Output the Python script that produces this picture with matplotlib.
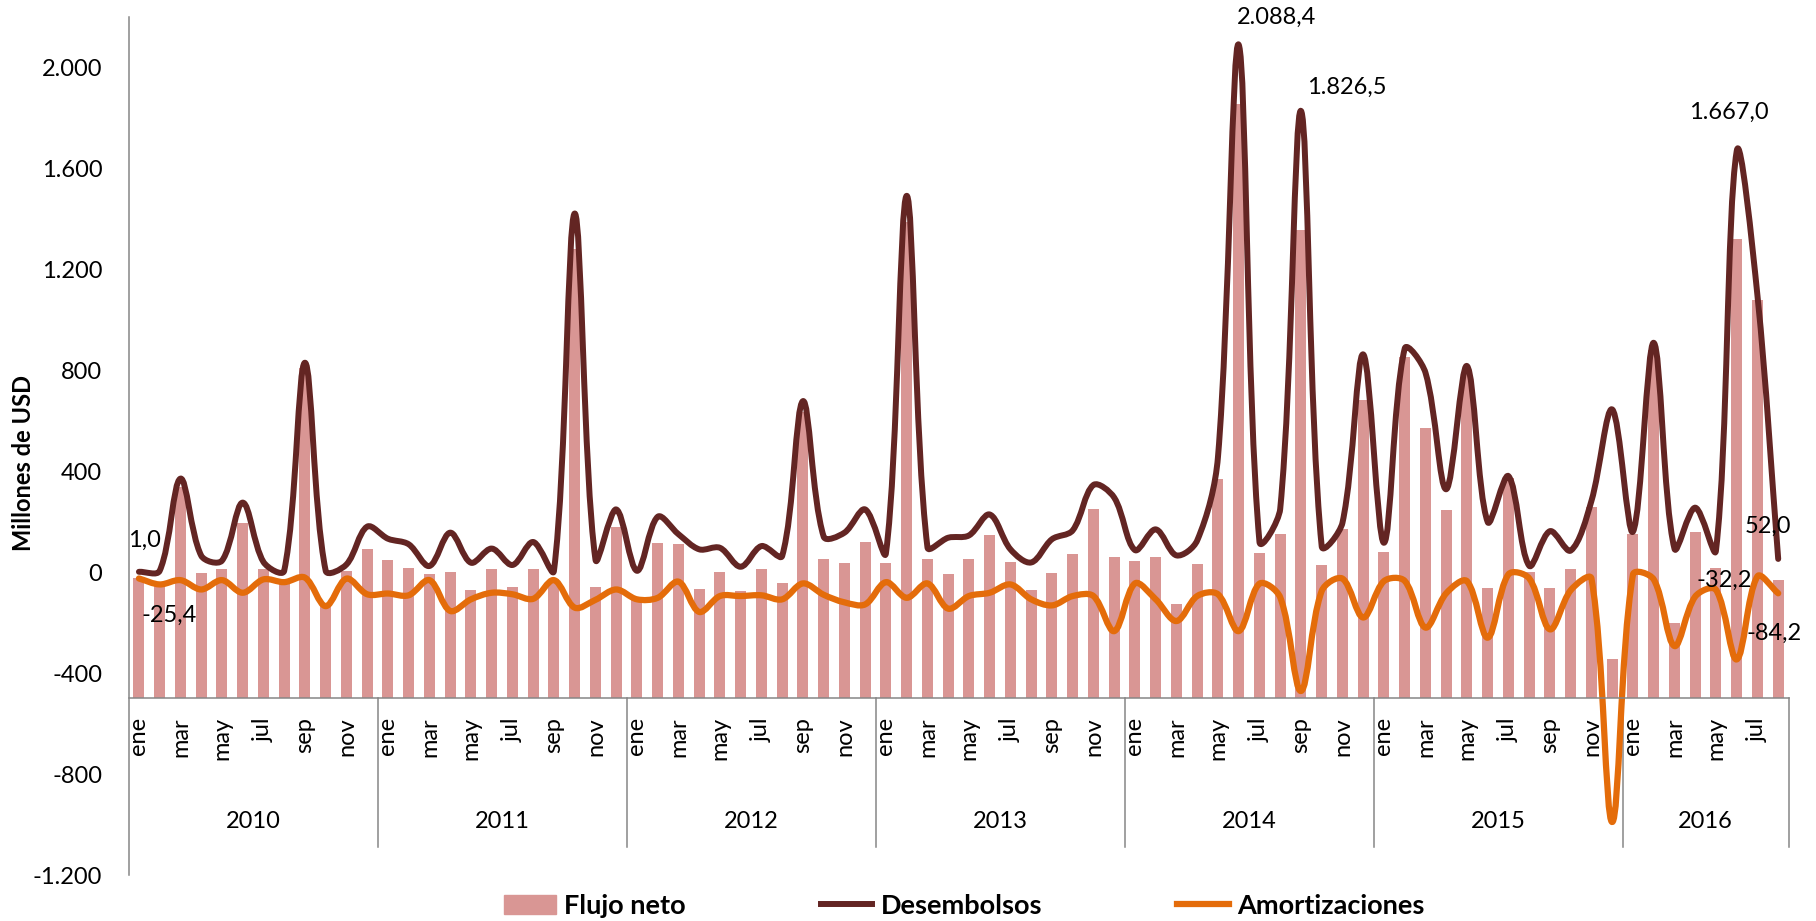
import numpy as np
import matplotlib
matplotlib.use("Agg")
import matplotlib.pyplot as plt
from matplotlib.path import Path
from matplotlib.patches import PathPatch, Patch
from matplotlib.lines import Line2D
from matplotlib.ticker import FuncFormatter

plt.rcParams['font.family'] = ['Lato', 'DejaVu Sans']
plt.rcParams['axes.unicode_minus'] = False

# datos mensuales ene-2010 .. ago-2016 (millones de USD)
years = ['2010', '2011', '2012', '2013', '2014', '2015', '2016']
months = ['ene', 'feb', 'mar', 'abr', 'may', 'jun', 'jul', 'ago', 'sep', 'oct', 'nov', 'dic']

desembolsos = [
    1.0, 5, 370, 65, 45, 275, 40, 5, 829, 5, 30, 180,
    132, 110, 24, 156, 37, 93, 28, 119, 5, 1420, 50, 248,
    5, 219, 150, 90, 96, 21, 103, 64, 677, 140, 156, 248,
    75, 1490, 98, 136, 145, 228, 90, 38, 130, 165, 345, 295,
    87, 169, 66, 125, 455, 2088.4, 120, 250, 1826.5, 102, 195, 862,
    116, 885, 790, 328, 816, 198, 380, 25, 162, 85, 282, 644,
    160, 908, 93, 255, 85, 1667.0, 1095, 52.0,
]
amortizaciones = [
    -25.4, -49, -32, -69, -32, -82, -29, -40, -22, -135, -26, -88,
    -85, -92, -32, -154, -108, -82, -88, -106, -32, -141, -110, -69,
    -108, -102, -38, -158, -95, -95, -92, -108, -45, -90, -120, -128,
    -40, -102, -45, -145, -95, -82, -49, -108, -132, -95, -95, -234,
    -45, -108, -194, -95, -88, -234, -46, -100, -471, -75, -26, -180,
    -36, -35, -220, -84, -36, -260, -9, -25, -227, -72, -26, -990,
    -10, -29, -293, -97, -70, -346, -17, -84.2,
]
flujo_neto = [
    -24.4, -44, 338, -4, 13, 193, 11, -35, 807, -130, 4, 92,
    47, 18, -8, 2, -71, 11, -60, 13, -27, 1279, -60, 179,
    -103, 117, 112, -68, 1, -74, 11, -44, 632, 50, 36, 120,
    35, 1388, 53, -9, 50, 146, 41, -70, -2, 70, 250, 61,
    42, 61, -128, 30, 367, 1854.4, 74, 150, 1355.5, 27, 169, 682,
    80, 850, 570, 244, 780, -62, 371, 0, -65, 13, 256, -346,
    150, 879, -200, 158, 15, 1321, 1078, -32.2,
]

C_BAR = '#D99694'
C_DES = '#632523'
C_AMO = '#E46C0A'
C_AX = '#868686'
FS = 17
BASE = -500  # el eje horizontal cruza en -500

n = len(desembolsos)
x = np.arange(n)


def fmt_es(v, dec=1):
    s = f"{v:,.{dec}f}"
    return s.replace(',', 'X').replace('.', ',').replace('X', '.')


def smooth_path(xs, ys, sx=20.75, sy=0.2525):
    # curva suavizada tipo Excel: tangentes Catmull-Rom con brazos
    # proporcionales a la longitud de cada tramo (medida en pixeles)
    pts = np.column_stack([xs, ys]).astype(float)
    scale = np.array([sx, sy])
    m = len(pts)

    def dist(a, b):
        return np.hypot(*((pts[b] - pts[a]) * scale))

    fwd, bwd = [], []
    for i in range(m):
        p0 = i - 1 if i > 0 else i
        p2 = i + 1 if i < m - 1 else i
        t = pts[p2] - pts[p0]
        d01, d12 = dist(p0, i), dist(i, p2)
        tot = d01 + d12 if d01 + d12 > 0 else 1.0
        fwd.append(pts[i] + t * d12 / (3 * tot))
        bwd.append(pts[i] - t * d01 / (3 * tot))
    verts = [pts[0]]
    codes = [Path.MOVETO]
    for i in range(m - 1):
        verts += [fwd[i], bwd[i + 1], pts[i + 1]]
        codes += [Path.CURVE4] * 3
    return Path(verts, codes)


fig = plt.figure(figsize=(18.16, 9.21), dpi=100)
ax = fig.add_axes([0.0708, 0.0499, 0.9141, 0.9321])

ax.bar(x, np.array(flujo_neto) - BASE, bottom=BASE, width=0.53, color=C_BAR, zorder=2)
ax.add_patch(PathPatch(smooth_path(x, desembolsos), fc='none', ec=C_DES, lw=4.3,
                       capstyle='round', joinstyle='round', zorder=3))
ax.add_patch(PathPatch(smooth_path(x, amortizaciones), fc='none', ec=C_AMO, lw=4.5,
                       capstyle='round', joinstyle='round', zorder=4))

ax.set_xlim(-0.5, n - 0.5)
ax.set_ylim(-1200, 2200)
ax.set_yticks(np.arange(-1200, 2001, 400))
ax.yaxis.set_major_formatter(FuncFormatter(lambda v, p: fmt_es(v, 0)))
ax.tick_params(axis='y', length=0, pad=19, labelsize=FS)
ax.set_xticks([])
for s in ['top', 'right', 'bottom']:
    ax.spines[s].set_visible(False)
ax.spines['left'].set_color(C_AX)
ax.spines['left'].set_linewidth(1.1)

# eje de categorias en -500
ax.plot([-0.5, n - 0.5], [BASE, BASE], color=C_AX, lw=1.1, zorder=5, clip_on=False)
for i in range(0, n, 2):
    ax.annotate(months[i % 12], xy=(i, BASE), xytext=(0, -13.5), textcoords='offset points',
                rotation=90, ha='center', va='top', fontsize=FS)
bounds = list(range(12, n, 12)) + [n]
for b in bounds:
    ax.plot([b - 0.5, b - 0.5], [BASE, -1090], color=C_AX, lw=1.1, clip_on=False)
for k, yr in enumerate(years):
    start = 12 * k
    end = min(12 * (k + 1), n)
    ax.annotate(yr, xy=((start + end - 1) / 2, BASE), xytext=(0, -88.5), textcoords='offset points',
                ha='center', va='center', fontsize=FS)

# etiquetas de datos
labels = [
    (desembolsos, 0, 6, 31), (amortizaciones, 0, 30, -37),
    (desembolsos, 53, 38, 27), (desembolsos, 56, 46, 24),
    (desembolsos, 77, -8, 39), (desembolsos, 79, -10, 33),
    (flujo_neto, 79, -54, 0), (amortizaciones, 79, -4, -40),
]
for serie, i, dx, dy in labels:
    ax.annotate(fmt_es(serie[i]), xy=(i, serie[i]), xytext=(dx * 0.72, dy * 0.72),
                textcoords='offset points', ha='center', va='center', fontsize=FS, zorder=6)

fig.text(0.0127, 0.497, 'Millones de USD', rotation=90, ha='center', va='center',
         fontsize=FS, fontweight='bold')

handles = [Patch(color=C_BAR),
           Line2D([], [], color=C_DES, lw=4.3),
           Line2D([], [], color=C_AMO, lw=4.5)]
fig.legend(handles, ['Flujo neto', 'Desembolsos', 'Amortizaciones'], loc='center',
           bbox_to_anchor=(0.531, 0.0163), ncol=3, frameon=False,
           prop={'size': 19.5, 'weight': 'bold'}, handlelength=1.9, handletextpad=0.3,
           columnspacing=5.0, handleheight=0.75)

fig.savefig('out.png', dpi=100)
